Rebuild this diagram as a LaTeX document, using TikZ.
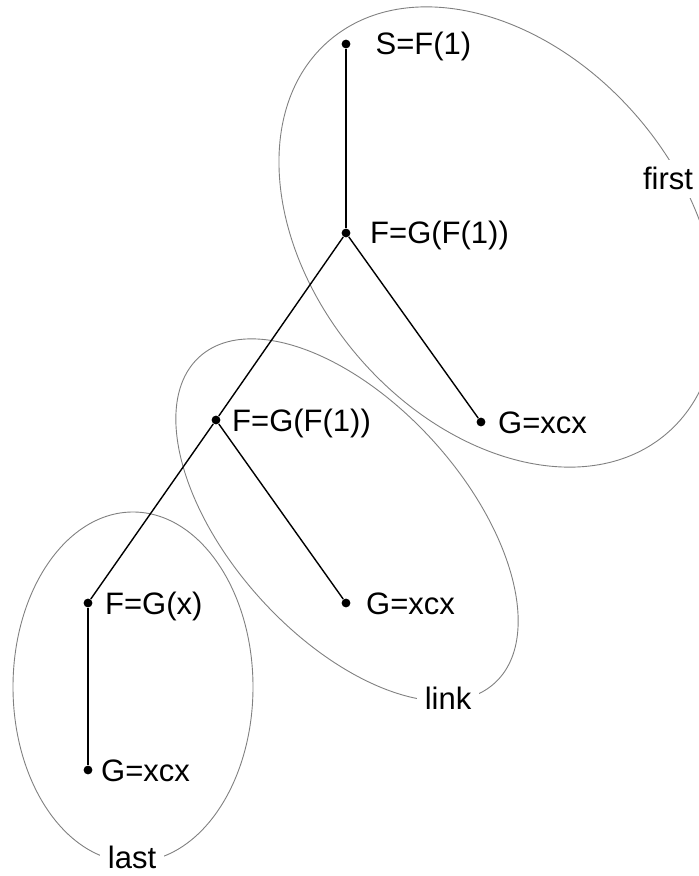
\documentclass[tikz,border=0pt]{standalone}
\usepackage{fontspec}
\setmainfont{Liberation Sans}
\usepackage{tikz}
\usetikzlibrary{positioning}
\tikzset{
  vertex/.style={circle,fill=black,inner sep=0pt,minimum size=4.4pt},
  term/.style={inner sep=0pt,text height=11pt,text depth=0pt,
    font=\fontsize{15.5}{18}\selectfont},
  edge/.style={line width=0.7pt,draw=black},
  group/.style={draw=black!50,line width=0.45pt},
  grouplabel/.style={fill=white,inner sep=4pt,text height=11pt,text depth=0pt,
    font=\fontsize{15.5}{18}\selectfont}
}
\begin{document}
\begin{tikzpicture}[x=0.5pt,y=-0.5pt]
  \useasboundingbox (0,0) rectangle (699,876);
  \draw[group,rotate around={-49.3:(498,237)}] (498,237) ellipse [x radius=129.5pt,y radius=92pt];
  \draw[group,rotate around={-47.9:(347,520)}] (347,520) ellipse [x radius=110pt,y radius=58.5pt];
  \draw[group] (133,687) ellipse [x radius=60pt,y radius=87.5pt];
  \node[grouplabel] (first) at (668,179) {first};
  \node[grouplabel] (link) at (448,698) {link};
  \node[grouplabel] (last) at (132,857) {last};
  \node[vertex] (dS) at (346,44) {};
  \node[vertex] (dF1) at (346,233) {};
  \node[vertex] (dF2) at (216,420) {};
  \node[vertex] (dG1) at (481,422) {};
  \node[vertex] (dF3) at (88,603) {};
  \node[vertex] (dG2) at (346,603) {};
  \node[vertex] (dG3) at (88,770) {};
  \node[term,right=12.2pt of dS] (tS) {S=F(1)};
  \node[term,right=9.5pt of dF1] (tF1) {F=G(F(1))};
  \node[term,right=5.5pt of dF2] (tF2) {F=G(F(1))};
  \node[term,right=6pt of dG1] (tG1) {G=xcx};
  \node[term,right=6pt of dF3] (tF3) {F=G(x)};
  \node[term,right=7.5pt of dG2] (tG2) {G=xcx};
  \node[term,right=4pt of dG3] (tG3) {G=xcx};
  \draw[edge] (dS)--(dF1); \draw[edge] (dF1)--(dF2); \draw[edge] (dF1)--(dG1);
  \draw[edge] (dF2)--(dF3); \draw[edge] (dF2)--(dG2); \draw[edge] (dF3)--(dG3);
\end{tikzpicture}
\end{document}
